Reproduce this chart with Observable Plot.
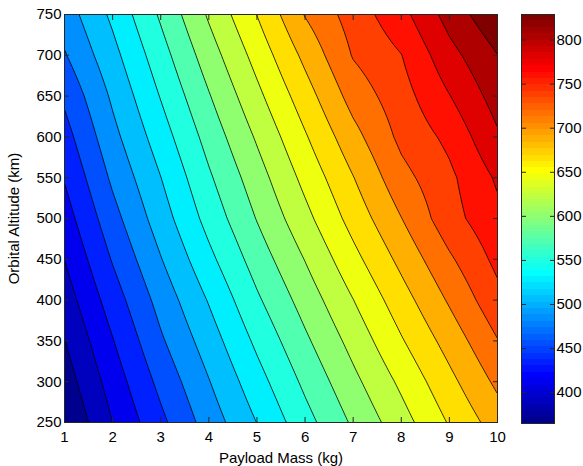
<!DOCTYPE html>
<html><head><meta charset="utf-8">
<script src="https://cdn.jsdelivr.net/npm/d3@7"></script>
<script src="https://cdn.jsdelivr.net/npm/@observablehq/plot@0.6"></script>
<style>
html,body{margin:0;padding:0;background:#fff;}
#fig{position:relative;width:583px;height:466px;overflow:hidden;background:#fff;}
#main{position:absolute;left:0;top:0;}
#cbar{position:absolute;left:500px;top:0;}
</style></head><body><div id="fig"><div id="main"></div><div id="cbar"></div></div>
<script>
// Grid: payload mass (kg) x orbital altitude (km)
const masses = [1, 2, 3, 4, 5, 6, 7, 8, 9, 10];
const altitudes = [250, 300, 350, 400, 450, 500, 550, 600, 650, 700, 750];
const z250 = [365.0, 411.4, 452.0, 491.4, 527.8, 565.2, 600.5, 633.9, 668.6, 701.0];
const z300 = [376.5, 421.8, 464.4, 503.1, 541.4, 578.8, 614.2, 648.2, 683.4, 718.1];
const z350 = [387.5, 433.3, 477.6, 515.8, 555.5, 592.7, 628.2, 664.4, 699.1, 735.2];
const z400 = [399.6, 446.0, 489.5, 529.1, 570.1, 606.6, 643.0, 679.8, 715.9, 752.5];
const z450 = [411.6, 459.6, 503.0, 544.5, 584.3, 621.0, 659.4, 696.1, 732.6, 765.6];
const z500 = [423.9, 472.7, 516.1, 558.8, 598.1, 636.4, 675.4, 712.5, 750.5, 776.8];
const z550 = [436.1, 485.3, 527.0, 570.4, 609.9, 650.1, 689.0, 728.5, 754.5, 786.0];
const z600 = [448.6, 497.2, 539.4, 582.5, 623.1, 664.2, 705.1, 742.0, 765.3, 802.8];
const z650 = [462.2, 508.1, 551.9, 595.3, 637.4, 679.3, 722.3, 750.1, 781.8, 815.9];
const z700 = [479.0, 520.0, 564.2, 609.0, 651.8, 695.7, 737.9, 758.8, 797.9, 828.5];
const z750 = [492.0, 532.3, 577.2, 623.3, 667.0, 714.3, 746.8, 775.0, 815.0, 848.0];
const values = [z250, z300, z350, z400, z450, z500, z550, z600, z650, z700, z750];

// colour limits (from the colour bar) and number of contour levels
const zMin = 365;
const zTop = 829;
const nLevels = 20;

const xTicks = [1, 2, 3, 4, 5, 6, 7, 8, 9, 10];
const yTicks = [250, 300, 350, 400, 450, 500, 550, 600, 650, 700, 750];
const cbTicks = [400, 450, 500, 550, 600, 650, 700, 750, 800];

const step = (zTop - zMin) / nLevels;
const thresholds = [zMin - 1, ...d3.range(1, nLevels + 1).map(k => zMin + k * step)];

// MATLAB jet(64)
function jet64(i) {
  let r, g, b;
  if (i < 25) r = 0; else if (i <= 40) r = (i - 24) / 16; else if (i <= 56) r = 1; else r = (72 - i) / 16;
  if (i < 9) g = 0; else if (i <= 24) g = (i - 8) / 16; else if (i <= 40) g = 1; else if (i <= 55) g = (56 - i) / 16; else g = 0;
  if (i <= 8) b = (i + 8) / 16; else if (i <= 24) b = 1; else if (i <= 39) b = (40 - i) / 16; else b = 0;
  return `rgb(${Math.round(r * 255)},${Math.round(g * 255)},${Math.round(b * 255)})`;
}
function jetInterp(t) {
  let idx = Math.floor(t * 64 + 1e-9) + 1;
  idx = Math.max(1, Math.min(64, idx));
  return jet64(idx);
}

function lookup(arr, v) {
  let i = d3.bisectRight(arr, v) - 1;
  i = Math.max(0, Math.min(arr.length - 2, i));
  return [i, (v - arr[i]) / (arr[i + 1] - arr[i])];
}
function zAt(x, y) {
  const [i, tx] = lookup(masses, x);
  const [j, ty] = lookup(altitudes, y);
  const a = values[j][i], b = values[j][i + 1], c = values[j + 1][i], d = values[j + 1][i + 1];
  return (a * (1 - tx) + b * tx) * (1 - ty) + (c * (1 - tx) + d * tx) * ty;
}

const font = {fontSize: "15px", fontFamily: "'Liberation Sans', Arial, sans-serif", background: "none", color: "black", overflow: "visible"};

const main = Plot.plot({
  width: 510, height: 466,
  marginLeft: 64, marginRight: 13, marginTop: 14, marginBottom: 44,
  style: font,
  x: {domain: [1, 10]},
  y: {domain: [250, 750]},
  color: {type: "linear", domain: [zMin, zTop], interpolate: jetInterp},
  marks: [
    Plot.contour({x1: 1, x2: 10, y1: 250, y2: 750, fill: zAt, thresholds, stroke: "black", strokeWidth: 0.8, pixelSize: 1}),
    Plot.frame({stroke: "#262626"}),
    Plot.axisX({anchor: "bottom", ticks: xTicks, tickSize: 0, tickPadding: 9, label: "Payload Mass (kg)", labelAnchor: "center", labelArrow: "none", labelOffset: 40}),
    Plot.axisX({anchor: "bottom", ticks: xTicks, tickSize: -5, tickFormat: () => "", label: null, stroke: "#262626"}),
    Plot.axisX({anchor: "top", ticks: xTicks, tickSize: -5, tickFormat: () => "", label: null, stroke: "#262626"}),
    Plot.axisY({anchor: "left", ticks: yTicks, tickSize: 0, tickPadding: 3, label: "Orbital Altitude (km)", labelAnchor: "center", labelArrow: "none", labelOffset: 56}),
    Plot.axisY({anchor: "left", ticks: yTicks, tickSize: -5, tickFormat: () => "", label: null, stroke: "#262626"}),
    Plot.axisY({anchor: "right", ticks: yTicks, tickSize: -5, tickFormat: () => "", label: null, stroke: "#262626"})
  ]
});
document.getElementById("main").append(main);

const cbIdx = d3.range(64);
const cbar = Plot.plot({
  width: 83, height: 466,
  marginLeft: 21, marginRight: 29, marginTop: 14, marginBottom: 43,
  style: font,
  x: {domain: [0, 1], axis: null},
  y: {domain: [zMin, zTop]},
  marks: [
    Plot.rect(cbIdx, {x1: 0, x2: 1, y1: i => zMin + i * (zTop - zMin) / 64, y2: i => zMin + (i + 1) * (zTop - zMin) / 64, fill: i => jet64(i + 1), shapeRendering: "crispEdges"}),
    Plot.frame({stroke: "#262626"}),
    Plot.axisY({anchor: "right", ticks: cbTicks, tickSize: 0, tickPadding: 2, label: null}),
    Plot.axisY({anchor: "right", ticks: cbTicks, tickSize: -5, tickFormat: () => "", label: null, stroke: "#262626"}),
    Plot.axisY({anchor: "left", ticks: cbTicks, tickSize: -5, tickFormat: () => "", label: null, stroke: "#262626"})
  ]
});
document.getElementById("cbar").append(cbar);
</script></body></html>
